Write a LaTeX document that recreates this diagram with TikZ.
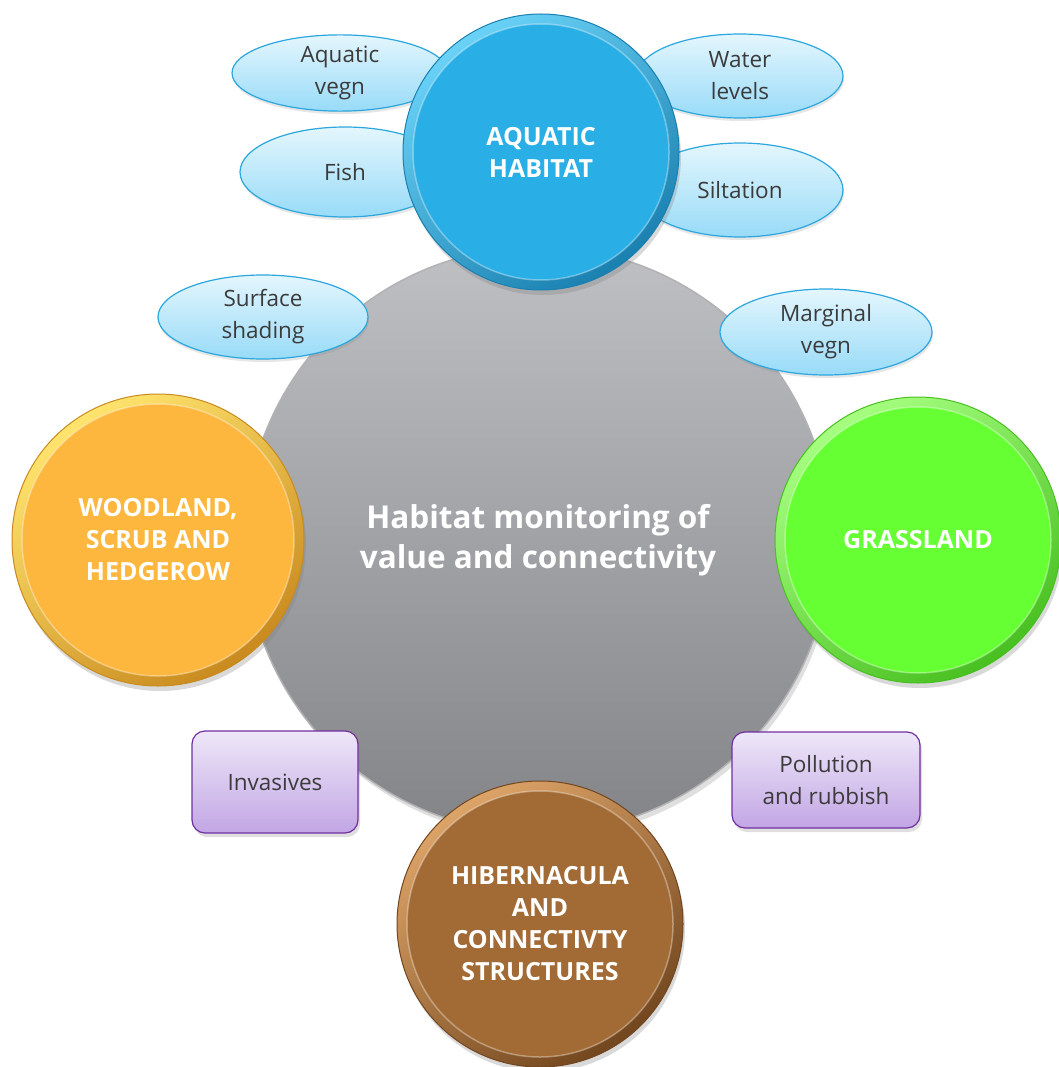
\documentclass[tikz,border=0pt]{standalone}
\usepackage{fontspec}
\setmainfont{Open Sans}
\usetikzlibrary{shapes.geometric,shadows,positioning}

\definecolor{aquaMain}{HTML}{29AEE6}
\definecolor{aquaLight}{HTML}{6AD2F7}
\definecolor{aquaDark}{HTML}{1A80B0}
\definecolor{woodMain}{HTML}{FDB73F}
\definecolor{woodLight}{HTML}{FFE46E}
\definecolor{woodDark}{HTML}{C98A1E}
\definecolor{grassMain}{HTML}{66FF33}
\definecolor{grassLight}{HTML}{A6FF80}
\definecolor{grassDark}{HTML}{48C020}
\definecolor{hibMain}{HTML}{A26A34}
\definecolor{hibLight}{HTML}{DDA468}
\definecolor{hibDark}{HTML}{72461E}
\definecolor{grayTop}{HTML}{BFC0C4}
\definecolor{grayBot}{HTML}{838488}
\definecolor{bubbleTop}{HTML}{E4F6FD}
\definecolor{bubbleBot}{HTML}{98DBF8}
\definecolor{bubbleLine}{HTML}{2BA6DE}
\definecolor{boxTop}{HTML}{EEE7F8}
\definecolor{boxBot}{HTML}{C2A6E5}
\definecolor{boxLine}{HTML}{7030A0}
\definecolor{textDark}{HTML}{3B3B3B}

\begin{document}
\begin{tikzpicture}[x=1pt, y=-1pt,
        disc/.style n args={4}{circle, minimum size=#1, inner sep=0pt, align=center,
            top color=#3, bottom color=#4, shading angle=35, draw=#4, line width=1pt,
            drop shadow={opacity=0.3, shadow xshift=2pt, shadow yshift=-5pt},
            path picture={\fill[#2] (path picture bounding box.center) circle[radius=#1/2-10];
                \draw[white, opacity=0.35, line width=1.5pt] (path picture bounding box.center) circle[radius=#1/2-10];},
            text=white, font=\fontsize{25}{32}\selectfont\bfseries},
        bubble/.style 2 args={ellipse, minimum width=#1, minimum height=#2, inner sep=0pt, align=center,
            top color=bubbleTop, bottom color=bubbleBot, draw=bubbleLine, line width=1.2pt,
            drop shadow={opacity=0.2, shadow xshift=1pt, shadow yshift=-3pt},
            text=textDark, font=\fontsize{22.5}{32}\selectfont},
        issue/.style 2 args={rectangle, rounded corners=13pt, minimum width=#1, minimum height=#2, align=center,
            top color=boxTop, bottom color=boxBot, draw=boxLine, line width=1.2pt,
            drop shadow={opacity=0.25, shadow xshift=2pt, shadow yshift=-4pt},
            text=textDark, font=\fontsize{22.5}{32}\selectfont}
    ]
        \useasboundingbox (0,0) rectangle (1058,1067);

        % centre
        \node [circle, minimum size=586, inner sep=0pt, align=center, top color=grayTop, bottom color=grayBot,
            draw=gray!60, line width=1.5pt, drop shadow={opacity=0.25, shadow yshift=-5pt},
            text=white, font=\fontsize{31.5}{40}\selectfont\bfseries] (hub) at (538,540)
            {Habitat monitoring of\\value and connectivity};

        % aquatic factors (behind the aquatic disc)
        \node [bubble={216}{76}] (vegn) at (340,73) {Aquatic\\vegn};
        \node [bubble={210}{90}] (fish) at (345,172) {Fish};
        \node [bubble={206}{84}] (water) at (740,76) {Water\\levels};
        \node [bubble={206}{94}] (silt) at (740,190) {Siltation};
        \node [bubble={210}{84}] (shade) at (263,317) {Surface\\shading};
        \node [bubble={212}{86}] (margin) at (826,332) {Marginal\\vegn};

        % habitats
        \node [disc={276}{aquaMain}{aquaLight}{aquaDark}] (aquatic) at (541,152) {AQUATIC\\HABITAT};
        \node [disc={292}{woodMain}{woodLight}{woodDark}] (wood) at (158,540) {WOODLAND,\\SCRUB AND\\HEDGEROW};
        \node [disc={286}{grassMain}{grassLight}{grassDark}] (grass) at (918,540) {GRASSLAND};
        \node [disc={286}{hibMain}{hibLight}{hibDark}] (hib) at (540,924)
            {HIBERNACULA\\AND\\CONNECTIVTY\\STRUCTURES};

        % threats
        \node [issue={166}{102}] (invasive) at (275,782) {Invasives};
        \node [issue={188}{96}] (pollution) at (826,780) {Pollution\\and rubbish};

    \end{tikzpicture}
\end{document}
